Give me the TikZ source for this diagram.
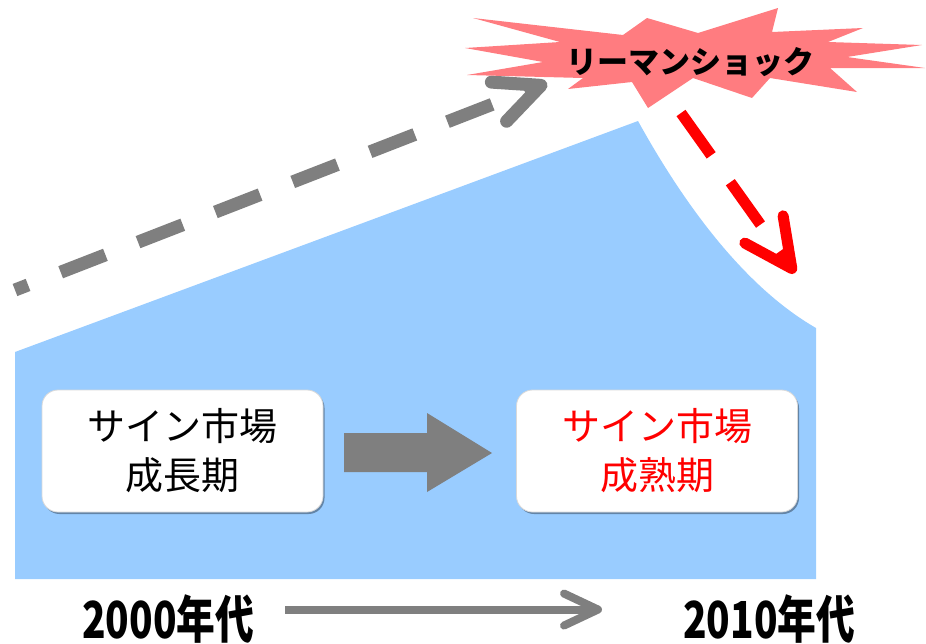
\documentclass[tikz,border=0pt]{standalone}
\usepackage{fontspec}
\setmainfont{Noto Sans CJK JP}
\newfontfamily\narrowfont[FakeStretch=0.76]{Noto Sans CJK JP}
\usetikzlibrary{arrows.meta,shadows}

\definecolor{skyblue}{HTML}{99CCFF}
\definecolor{shockpink}{HTML}{FF7C80}
\definecolor{arrowgray}{HTML}{7F7F7F}

\tikzset{
  stage/.style={rounded corners=16pt, fill=white, draw=gray!30, line width=0.8pt,
    minimum width=281pt, minimum height=122pt, align=center,
    font=\fontsize{38}{49}\selectfont,
    drop shadow={shadow xshift=1.5pt, shadow yshift=-2pt, opacity=0.35, fill=black}},
  era/.style={font=\narrowfont\bfseries\fontsize{51}{51}\selectfont, inner sep=0pt},
  trend/.style={arrowgray, line width=13pt, dash pattern=on 48pt off 35pt, dash phase=34pt,
    -{Straight Barb[length=45pt, width=42pt, round]}},
  fall/.style={red, line width=11pt, dash pattern=on 52pt off 33pt,
    -{Straight Barb[length=48pt, width=47pt, round]}}
}

\begin{document}
\begin{tikzpicture}[x=1pt, y=-1pt]
  \useasboundingbox (0,0) rectangle (926,643);

  % market area
  \fill[skyblue] (15,352) -- (638,121) % rising edge
                 .. controls (690,215) and (750,290) .. (816,328) % drop after the shock
                 -- (816,579) -- (15,579) -- cycle;

  % growth trend
  \coordinate (trendstart) at (15,290);
  \coordinate (trendtip) at (547,83);
  \draw[trend] (trendstart) -- (trendtip);

  % shock burst
  \fill[shockpink] (473,18) -- (623,35) -- (647,18) -- (698,33) -- (778,8) -- (772,32)
                   -- (863,28) -- (828,42) -- (922,45) -- (847,57) -- (925,68) -- (830,68)
                   -- (857,92) -- (770,78) -- (752,98) -- (693,78) -- (648,108) -- (632,82)
                   -- (568,89) -- (583,78) -- (467,75) -- (543,62) -- (465,48) -- (560,42)
                   -- cycle;
  \node (shock) at (690,62) {\fontsize{31}{31}\selectfont\bfseries リーマンショック};

  % fall after the shock
  \coordinate (fallstart) at (681,113);
  \coordinate (falltip) at (795,273);
  \draw[fall] (fallstart) -- (falltip);

  % stages
  \node[stage] (growth) at (182.5,451) {サイン市場\\成長期};
  \node[stage, text=red] (mature) at (657,451) {サイン市場\\成熟期};
  \fill[arrowgray] (344,433) -- (427,433) -- (427,413) -- (492,453) % shaft and upper head
                   -- (427,492) -- (427,472) -- (344,472) -- cycle; % lower head and back

  % time axis
  \node[era, anchor=base west] (era2000) at (82,638) {2000年代};
  \node[era, anchor=base west] (era2010) at (683,638) {2010年代};
  \draw[arrowgray, line width=8pt, -{Straight Barb[length=34pt, width=32pt, round]}]
    ([xshift=31pt, yshift=9pt]era2000.east) -- ([xshift=-81pt, yshift=9pt]era2010.west);
\end{tikzpicture}
\end{document}
